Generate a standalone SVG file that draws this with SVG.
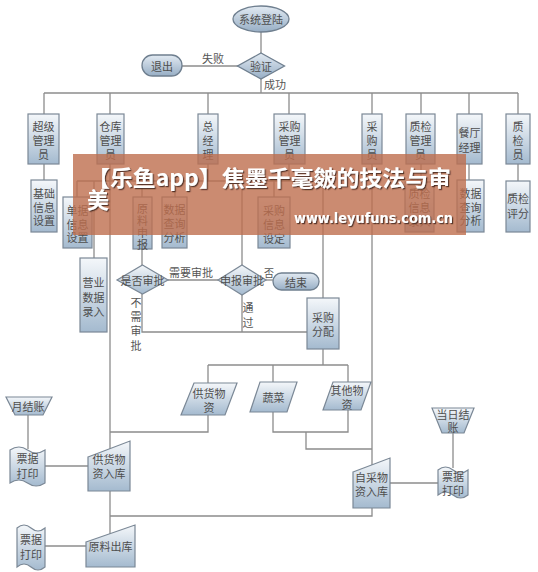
<svg xmlns="http://www.w3.org/2000/svg" width="538" height="572" viewBox="0 0 538 572">
<defs>
<linearGradient id="g" x1="0" y1="0" x2="0" y2="1"><stop offset="0" stop-color="#f4f7fa"/><stop offset="1" stop-color="#a4bacf"/></linearGradient>
<linearGradient id="gt" x1="0" y1="0" x2="0" y2="1"><stop offset="0" stop-color="#e2eaf2"/><stop offset="1" stop-color="#97aec5"/></linearGradient>
<filter id="sh" x="-5%" y="-20%" width="110%" height="140%"><feDropShadow dx="1.2" dy="1.2" stdDeviation="0.6" flood-color="#3a2418" flood-opacity="0.8"/></filter>
</defs>
<style>
.n{fill:url(#g);stroke:#7b8896;stroke-width:1.2}
.e{fill:url(#gt);stroke:#6f7f8f;stroke-width:1.3}
.t{font-family:"Noto Sans CJK SC","Noto Sans CJK JP",sans-serif;font-size:11px;fill:#4e4e4e;text-anchor:middle;dominant-baseline:central}
.l{font-family:"Noto Sans CJK SC","Noto Sans CJK JP",sans-serif;font-size:11px;fill:#555;text-anchor:middle;dominant-baseline:central}
.c line,.c polyline{stroke:#8c8c8c;stroke-width:1.3;fill:none}
</style>
<rect width="538" height="572" fill="#ffffff"/>
<g class="c" id="connectors">
<line x1="261" y1="32" x2="261" y2="53"/>
<line x1="182" y1="66" x2="238" y2="66"/>
<line x1="261" y1="79" x2="261" y2="93"/>
<line x1="44" y1="93" x2="518" y2="93"/>
<line x1="44" y1="93" x2="44" y2="114"/>
<line x1="110" y1="93" x2="110" y2="114"/>
<line x1="208" y1="93" x2="208" y2="114"/>
<line x1="289" y1="93" x2="289" y2="114"/>
<line x1="372" y1="93" x2="372" y2="114"/>
<line x1="421" y1="93" x2="421" y2="114"/>
<line x1="469" y1="93" x2="469" y2="114"/>
<line x1="518" y1="93" x2="518" y2="114"/>
<line x1="44" y1="164" x2="44" y2="180"/>
<line x1="110" y1="164" x2="110" y2="449"/>
<line x1="77" y1="181" x2="323" y2="181"/>
<line x1="77" y1="181" x2="77" y2="197"/>
<line x1="94" y1="181" x2="94" y2="258"/>
<line x1="142" y1="181" x2="142" y2="197"/>
<line x1="175" y1="181" x2="175" y2="197"/>
<line x1="208" y1="164" x2="208" y2="181"/>
<line x1="242" y1="181" x2="242" y2="265"/>
<line x1="274" y1="181" x2="274" y2="197"/>
<line x1="289" y1="164" x2="289" y2="181"/>
<line x1="323" y1="181" x2="323" y2="298"/>
<line x1="142" y1="249" x2="142" y2="265"/>
<line x1="168" y1="280" x2="218" y2="280"/>
<line x1="266" y1="280" x2="273" y2="280"/>
<polyline points="142,294 142,332 307,332"/>
<line x1="242" y1="295" x2="242" y2="332"/>
<line x1="372" y1="164" x2="372" y2="465"/>
<line x1="421" y1="164" x2="421" y2="182"/>
<line x1="469" y1="164" x2="469" y2="180"/>
<line x1="518" y1="164" x2="518" y2="181"/>
<line x1="323" y1="349" x2="323" y2="365"/>
<line x1="208" y1="365" x2="348" y2="365"/>
<line x1="208" y1="365" x2="208" y2="383"/>
<line x1="273" y1="365" x2="273" y2="382"/>
<line x1="348" y1="365" x2="348" y2="382"/>
<polyline points="208,415 208,432 110,432"/>
<polyline points="273,412 273,432 348,432 348,410"/>
<polyline points="306,432 306,449 372,449"/>
<line x1="390" y1="483" x2="438" y2="483"/>
<line x1="453" y1="433" x2="453" y2="468"/>
<line x1="28" y1="415" x2="28" y2="449"/>
<line x1="45" y1="466" x2="88" y2="466"/>
<line x1="110" y1="491" x2="110" y2="534"/>
<polyline points="110,516 372,516 372,508"/>
<line x1="45" y1="546" x2="86" y2="546"/>
</g>
<g id="labels">
<text class="l" x="213" y="58">失败</text>
<text class="l" x="275" y="84">成功</text>
<text class="l" x="191" y="272">需要审批</text>
<text class="l" x="269" y="272" style="font-size:10px">否</text>
<text class="l" x="136"><tspan x="136" y="302">不</tspan><tspan x="136" y="316">需</tspan><tspan x="136" y="330">审</tspan><tspan x="136" y="345">批</tspan></text>
<text class="l" x="248"><tspan x="248" y="307">通</tspan><tspan x="248" y="322">过</tspan></text>
</g>
<g id="n-login"><ellipse class="e" cx="261" cy="19" rx="28" ry="13"/><text class="t" x="261" y="19">系统登陆</text></g>
<g id="n-verify"><polygon class="e" points="261,53 284.5,66 261,79 237.5,66"/><text class="t" x="261" y="66">验证</text></g>
<g id="n-exit"><rect class="e" x="142" y="55" width="40" height="21" rx="10.5"/><text class="t" x="162" y="65.5">退出</text></g>
<g id="n-superadmin"><rect class="n" x="28" y="114" width="31" height="50"/><text class="t"><tspan x="43.5" y="126">超级</tspan><tspan x="43.5" y="140">管理</tspan><tspan x="43.5" y="154">员</tspan></text></g>
<g id="n-whadmin"><rect class="n" x="97" y="114" width="27" height="50"/><text class="t"><tspan x="110.5" y="126">仓库</tspan><tspan x="110.5" y="140">管理</tspan><tspan x="110.5" y="154">员</tspan></text></g>
<g id="n-gm"><rect class="n" x="198" y="114" width="20" height="50"/><text class="t"><tspan x="208" y="126">总</tspan><tspan x="208" y="140">经</tspan><tspan x="208" y="154">理</tspan></text></g>
<g id="n-puradmin"><rect class="n" x="274" y="114" width="31" height="50"/><text class="t"><tspan x="289.5" y="126">采购</tspan><tspan x="289.5" y="140">管理</tspan><tspan x="289.5" y="154">员</tspan></text></g>
<g id="n-buyer"><rect class="n" x="362" y="114" width="20" height="50"/><text class="t"><tspan x="372" y="126">采</tspan><tspan x="372" y="140">购</tspan><tspan x="372" y="154">员</tspan></text></g>
<g id="n-qcadmin"><rect class="n" x="406" y="114" width="29" height="50"/><text class="t"><tspan x="420.5" y="126">质检</tspan><tspan x="420.5" y="140">管理</tspan><tspan x="420.5" y="154">员</tspan></text></g>
<g id="n-rm"><rect class="n" x="457" y="114" width="25" height="50"/><text class="t"><tspan x="469.5" y="132">餐厅</tspan><tspan x="469.5" y="147">经理</tspan></text></g>
<g id="n-qc"><rect class="n" x="506" y="114" width="24" height="50"/><text class="t"><tspan x="518" y="126">质</tspan><tspan x="518" y="140">检</tspan><tspan x="518" y="154">员</tspan></text></g>
<g id="n-basic"><rect class="n" x="31" y="180" width="26" height="52"/><text class="t"><tspan x="44" y="193">基础</tspan><tspan x="44" y="207">信息</tspan><tspan x="44" y="220">设置</tspan></text></g>
<g id="n-doc"><rect class="n" x="63" y="197" width="29" height="51"/><text class="t"><tspan x="77.5" y="210">单据</tspan><tspan x="77.5" y="224">信息</tspan><tspan x="77.5" y="237">设置</tspan></text></g>
<g id="n-sales"><rect class="n" x="80" y="258" width="27" height="74"/><text class="t"><tspan x="93.5" y="282">营业</tspan><tspan x="93.5" y="297">数据</tspan><tspan x="93.5" y="311">录入</tspan></text></g>
<g id="n-req"><rect class="n" x="133" y="197" width="19" height="52"/><text class="t"><tspan x="142.5" y="208">原</tspan><tspan x="142.5" y="220">料</tspan><tspan x="142.5" y="232">申</tspan><tspan x="142.5" y="244">报</tspan></text></g>
<g id="n-query1"><rect class="n" x="162" y="197" width="25" height="51"/><text class="t"><tspan x="174.5" y="209">数据</tspan><tspan x="174.5" y="223">查询</tspan><tspan x="174.5" y="237">分析</tspan></text></g>
<g id="n-purset"><rect class="n" x="258" y="197" width="32" height="51"/><text class="t"><tspan x="274" y="210">采购</tspan><tspan x="274" y="224">信息</tspan><tspan x="274" y="238">设定</tspan></text></g>
<g id="n-qcinfo"><rect class="n" x="405" y="182" width="29" height="50"/><text class="t"><tspan x="419.5" y="193">质检</tspan><tspan x="419.5" y="207">信息</tspan><tspan x="419.5" y="221">录入</tspan></text></g>
<g id="n-query2"><rect class="n" x="457" y="180" width="27" height="52"/><text class="t"><tspan x="470.5" y="193">数据</tspan><tspan x="470.5" y="207">查询</tspan><tspan x="470.5" y="220">分析</tspan></text></g>
<g id="n-score"><rect class="n" x="506" y="181" width="24" height="51"/><text class="t"><tspan x="518" y="198">质检</tspan><tspan x="518" y="213">评分</tspan></text></g>
<g id="n-need"><polygon class="n" points="142.5,265 168,280 142.5,294 117,280"/><text class="t" x="142.5" y="280">是否审批</text></g>
<g id="n-approve"><polygon class="n" points="242,265 266,280 242,295 218,280"/><text class="t" x="242" y="280">申报审批</text></g>
<g id="n-end"><rect class="e" x="273" y="273" width="46" height="17" rx="8.5"/><text class="t" x="296" y="281.5">结束</text></g>
<g id="n-alloc"><rect class="n" x="307" y="298" width="32" height="51"/><text class="t"><tspan x="323" y="317">采购</tspan><tspan x="323" y="331">分配</tspan></text></g>
<g id="n-supply"><polygon class="n" points="194,383 237,383 225,415 181,415"/><text class="t"><tspan x="209" y="393">供货物</tspan><tspan x="209" y="407">资</tspan></text></g>
<g id="n-veg"><polygon class="n" points="260,382 297,382 287,412 250,412"/><text class="t" x="273.5" y="397">蔬菜</text></g>
<g id="n-other"><polygon class="n" points="333,382 371,382 361,410 323,410"/><text class="t"><tspan x="347" y="390">其他物</tspan><tspan x="347" y="404">资</tspan></text></g>
<g id="n-monthly"><polygon class="n" points="6,397 52,397 43,415 15,415"/><text class="t" x="28" y="406">月结账</text></g>
<g id="n-print1"><path class="n" d="M10,450 Q19,444 27.5,450 T45,450 L45,483 Q36,489 27.5,483 T10,483 Z"/><text class="t"><tspan x="27.5" y="458">票据</tspan><tspan x="27.5" y="473">打印</tspan></text></g>
<g id="n-instock"><polygon class="n" points="88,457 130,441 130,491 88,491"/><text class="t"><tspan x="109" y="459">供货物</tspan><tspan x="109" y="473">资入库</tspan></text></g>
<g id="n-out"><polygon class="n" points="86,542 135,525 135,567 86,567"/><text class="t" x="110.5" y="546">原料出库</text></g>
<g id="n-print2"><path class="n" d="M17,528 Q24,522 31,528 T45,528 L45,567 Q38,573 31,567 T17,567 Z"/><text class="t"><tspan x="31" y="539">票据</tspan><tspan x="31" y="554">打印</tspan></text></g>
<g id="n-selfstock"><polygon class="n" points="353,472 390,458 390,508 353,508"/><text class="t"><tspan x="371.5" y="477">自采物</tspan><tspan x="371.5" y="491">资入库</tspan></text></g>
<g id="n-print3"><path class="n" d="M438,470 Q445.5,464 453,470 T468,470 L468,495 Q460.5,501 453,495 T438,495 Z"/><text class="t"><tspan x="453" y="476">票据</tspan><tspan x="453" y="490">打印</tspan></text></g>
<g id="n-daily"><polygon class="n" points="432,408 474,408 464,433 442,433"/><text class="t"><tspan x="453" y="414">当日结</tspan><tspan x="453" y="427">账</tspan></text></g>
<g id="watermark">
<rect x="73" y="154" width="393" height="81" fill="rgb(190,110,78)" fill-opacity="0.8"/>
<g filter="url(#sh)" fill="#ffffff" style="font-family:'Noto Sans CJK SC','Noto Sans CJK JP',sans-serif;font-weight:bold">
<text x="87" y="186" font-size="22" textLength="364" lengthAdjust="spacingAndGlyphs">【乐鱼app】焦墨千毫皴的技法与审</text>
<text x="87" y="208" font-size="22">美</text>
</g>
<text x="294" y="223" filter="url(#sh)" fill="#ffffff" font-size="14" font-weight="bold" textLength="159" lengthAdjust="spacingAndGlyphs" style="font-family:'DejaVu Sans',sans-serif">www.leyufuns.com.cn</text>
</g>
</svg>
